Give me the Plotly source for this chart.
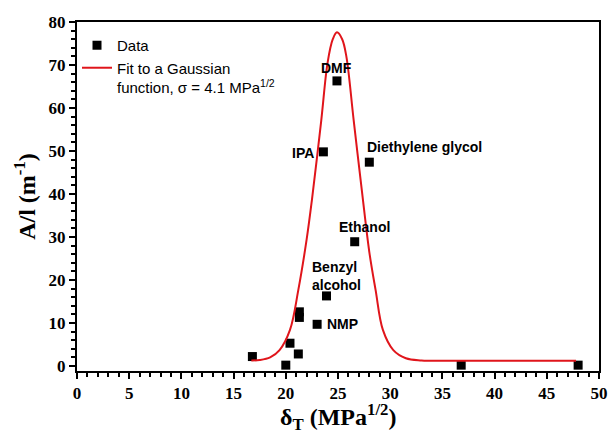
import plotly.graph_objects as go

# Measured data points (delta_T, A/l)
data_x = [16.8, 20.0, 20.4, 21.2, 21.3, 21.3, 23.0, 23.9, 26.6, 36.8, 48.0, 24.9, 23.6, 28.0]
data_y = [2.2, 0.2, 5.3, 2.8, 12.6, 11.3, 9.7, 16.3, 28.9, 0.2, 0.2, 66.3, 49.8, 47.4]

# Fit curve
fit_x = [16.7, 17.5, 18.5, 19.4, 20.4, 21.2, 22.0, 22.5, 23.4, 24.0, 24.5, 24.9,
         25.4, 25.8, 26.5, 27.3, 28.0, 28.6, 29.3, 30.3, 31.5, 33.0, 35.0, 40.0, 47.8]
fit_y = [1.3, 1.4, 2.0, 3.7, 8.4, 17.7, 29.5, 38.6, 57.2, 70.5, 76.0, 77.6,
         76.0, 72.0, 57.2, 40.5, 26.5, 17.7, 8.4, 3.7, 1.8, 1.3, 1.2, 1.2, 1.2]

# Solvent labels
label_text = ["DMF", "IPA", "Diethylene glycol", "Ethanol", "Benzyl<br>alcohol", "NMP"]
label_x = [24.9, 22.85, 27.6, 24.9, 22.3, 23.75]
label_y = [69.3, 49.5, 50.9, 32.3, 21.0, 9.8]
label_anchor = ["center", "right", "left", "left", "left", "left"]

x_title = "\u03b4<sub>T</sub> (MPa<sup>1/2</sup>)"
y_title = "A/l (m<sup>-1</sup>)"

fig = go.Figure()
fig.add_trace(go.Scatter(
    x=data_x, y=data_y, mode="markers", name="Data",
    marker=dict(symbol="square", size=9, color="black"),
))
fig.add_trace(go.Scatter(
    x=fit_x, y=fit_y, mode="lines", line_shape="spline",
    name="Fit to a Gaussian<br>function, \u03c3 = 4.1 MPa<sup>1/2</sup>",
    line=dict(color="#e0151b", width=2),
))

for t, x, y, a in zip(label_text, label_x, label_y, label_anchor):
    fig.add_annotation(x=x, y=y, text="<b>" + t + "</b>", showarrow=False,
                       xanchor=a, yanchor="middle", align="left",
                       font=dict(family="Liberation Sans, Arial", size=14, color="black"))

tick_font = dict(family="Liberation Serif, Times New Roman", size=17, color="black", weight="bold")
title_font = dict(family="Liberation Serif, Times New Roman", size=24, color="black", weight="bold")

# x-axis title as a paper-anchored text for precise placement
fig.add_annotation(xref="paper", yref="paper", x=0.5, y=0, yshift=-27,
                   xanchor="center", yanchor="top", showarrow=False,
                   text=x_title, font=title_font)

fig.update_xaxes(
    range=[0, 50], tickmode="linear", tick0=0, dtick=5, automargin=False,
    showline=True, linecolor="black", linewidth=2, mirror=True,
    ticks="outside", tickcolor="black", tickwidth=2, ticklen=6,
    showgrid=False, zeroline=False, tickfont=tick_font,
    minor=dict(tickmode="linear", tick0=0, dtick=1, ticks="outside",
               ticklen=4, tickwidth=1.5, tickcolor="black", showgrid=False),
)
fig.update_yaxes(
    range=[-1.16, 80], tickmode="linear", tick0=0, dtick=10, automargin=False,
    showline=True, linecolor="black", linewidth=2, mirror=True,
    ticks="outside", tickcolor="black", tickwidth=2, ticklen=6,
    showgrid=False, zeroline=False, tickfont=tick_font,
    minor=dict(tickmode="linear", tick0=0, dtick=2, ticks="outside",
               ticklen=4, tickwidth=1.5, tickcolor="black", showgrid=False),
    title=dict(text=y_title, standoff=6, font=title_font),
)

fig.update_layout(
    width=609, height=434,
    margin=dict(l=77, r=10, t=22, b=63),
    paper_bgcolor="white", plot_bgcolor="white",
    showlegend=True,
    legend=dict(x=0.0, y=0.98, xanchor="left", yanchor="top", valign="top",
                bgcolor="rgba(0,0,0,0)", tracegroupgap=0,
                font=dict(family="Liberation Sans, Arial", size=15, color="black")),
)

fig.write_html("out.html")
